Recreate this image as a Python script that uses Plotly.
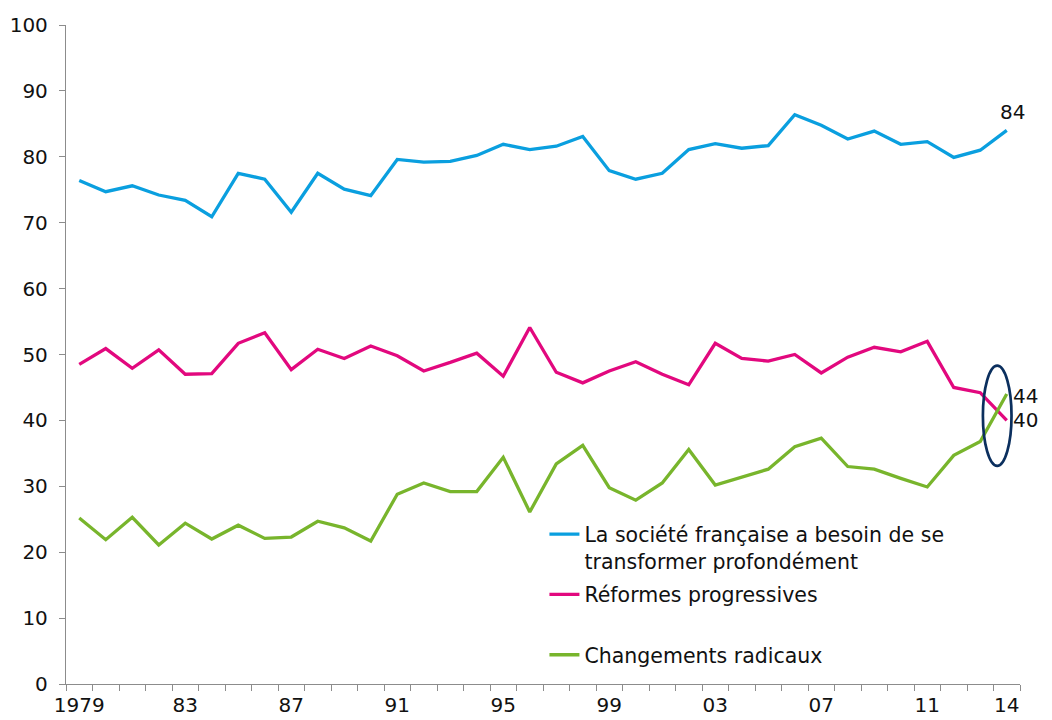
import plotly.graph_objects as go

years = list(range(1979, 2015))

transformer = [76.4, 74.7, 75.6, 74.2, 73.4, 70.9, 77.5, 76.6, 71.6, 77.5,
               75.1, 74.1, 79.6, 79.2, 79.3, 80.2, 81.9, 81.1, 81.6, 83.1,
               77.9, 76.6, 77.5, 81.1, 82.0, 81.3, 81.7, 86.4, 84.8, 82.7,
               83.9, 81.9, 82.3, 79.9, 81.0, 84.0]

reformes = [48.5, 50.9, 47.9, 50.7, 47.0, 47.1, 51.7, 53.3, 47.7, 50.8,
            49.4, 51.3, 49.8, 47.5, 48.8, 50.2, 46.7, 54.1, 47.3, 45.7,
            47.5, 48.9, 47.0, 45.4, 51.7, 49.4, 49.0, 50.0, 47.2, 49.6,
            51.1, 50.4, 52.0, 45.0, 44.2, 40.0]

radicaux = [25.2, 21.9, 25.3, 21.1, 24.4, 22.0, 24.1, 22.1, 22.3, 24.7,
            23.7, 21.7, 28.8, 30.5, 29.2, 29.2, 34.4, 26.1, 33.4, 36.2,
            29.8, 27.9, 30.5, 35.6, 30.2, 31.4, 32.6, 36.0, 37.3, 33.0,
            32.6, 31.2, 29.9, 34.7, 36.8, 44.0]

names = ["La société française a besoin de se<br>transformer profondément",
         "Réformes progressives<br> ",
         "Changements radicaux"]
colors = ["#0A9FDF", "#E2087E", "#78B52C"]

tick_years = [1979, 1983, 1987, 1991, 1995, 1999, 2003, 2007, 2011, 2014]
tick_text = ["1979", "83", "87", "91", "95", "99", "03", "07", "11", "14"]

FONT = "DejaVu Sans"
TXT = "#111111"

fig = go.Figure()
for i, (name, vals, col) in enumerate(zip(names, [transformer, reformes, radicaux], colors)):
    fig.add_trace(go.Scatter(x=years, y=vals, name=name, mode="lines",
                             legendgroup=f"g{i}",
                             line=dict(color=col, width=3.3),
                             cliponaxis=False))

# end-value labels
fig.add_annotation(x=years[-1], y=transformer[-1], text=f"{transformer[-1]:.0f}",
                   showarrow=False, xanchor="left", yanchor="middle",
                   xshift=-9, yshift=18, font=dict(family=FONT, size=20, color=TXT))
fig.add_annotation(x=years[-1], y=radicaux[-1], text=f"{radicaux[-1]:.0f}",
                   showarrow=False, xanchor="left", yanchor="middle",
                   xshift=4, yshift=-2, font=dict(family=FONT, size=20, color=TXT))
fig.add_annotation(x=years[-1], y=reformes[-1], text=f"{reformes[-1]:.0f}",
                   showarrow=False, xanchor="left", yanchor="middle",
                   xshift=4, yshift=0, font=dict(family=FONT, size=20, color=TXT))

# highlight ellipse around the crossing
fig.add_shape(type="circle", xref="x", yref="y", x0=2013.1, x1=2014.18,
              y0=33.1, y1=48.3, line=dict(color="#0B2F5E", width=2.7))

fig.update_layout(
    width=1044, height=712,
    margin=dict(l=58, r=32, t=17, b=36, autoexpand=False),
    paper_bgcolor="white", plot_bgcolor="white",
    font=dict(family=FONT, size=20, color=TXT),
    showlegend=True,
    legend=dict(x=0.5015, y=0.2575, xanchor="left", yanchor="top",
                bgcolor="rgba(0,0,0,0)", font=dict(family=FONT, size=20.5, color=TXT),
                valign="top", tracegroupgap=4, traceorder="grouped"),
    xaxis=dict(range=[1978.5, 2014.5], tickmode="array", tickvals=tick_years,
               ticktext=tick_text, ticks="", showgrid=False, zeroline=False,
               automargin=False, ticklabelstandoff=3,
               showline=True, linecolor="#8C8C8C", linewidth=1.3,
               tickfont=dict(family=FONT, size=20, color=TXT),
               minor=dict(tick0=1978.5, dtick=1, ticks="outside", ticklen=6,
                          tickcolor="#8C8C8C", tickwidth=1.3, showgrid=False)),
    yaxis=dict(range=[0, 100], tickmode="array", tickvals=list(range(0, 101, 10)),
               ticks="outside", ticklen=6, tickcolor="#8C8C8C", tickwidth=1.3,
               showgrid=False, zeroline=False, showline=True, automargin=False,
               ticklabelstandoff=7,
               linecolor="#8C8C8C", linewidth=1.3,
               tickfont=dict(family=FONT, size=20, color=TXT)),
)

fig.write_html("out.html")
